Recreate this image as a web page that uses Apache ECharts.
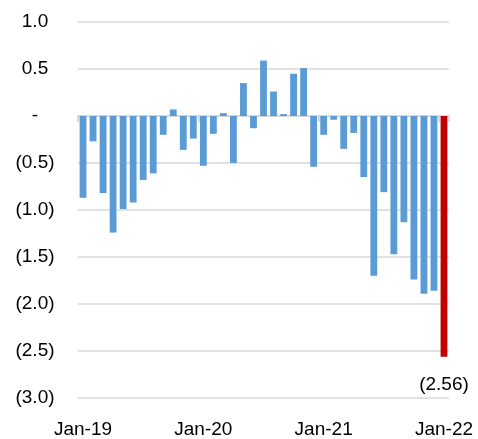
<!DOCTYPE html>
<html>
<head>
<meta charset="utf-8">
<script src="https://cdn.jsdelivr.net/npm/echarts@6/dist/echarts.min.js"></script>
<style>html,body{margin:0;padding:0;background:#fff}#c{width:478px;height:439px}</style>
</head>
<body>
<div id="c"></div>
<script>
const categories = ["Jan-19","Feb-19","Mar-19","Apr-19","May-19","Jun-19","Jul-19","Aug-19","Sep-19","Oct-19","Nov-19","Dec-19",
  "Jan-20","Feb-20","Mar-20","Apr-20","May-20","Jun-20","Jul-20","Aug-20","Sep-20","Oct-20","Nov-20","Dec-20",
  "Jan-21","Feb-21","Mar-21","Apr-21","May-21","Jun-21","Jul-21","Aug-21","Sep-21","Oct-21","Nov-21","Dec-21","Jan-22"];
const values = [-0.87,-0.27,-0.82,-1.24,-0.99,-0.92,-0.68,-0.61,-0.20,0.07,-0.36,-0.24,
  -0.53,-0.19,0.03,-0.50,0.35,-0.13,0.59,0.26,0.02,0.45,0.51,-0.54,
  -0.20,-0.04,-0.35,-0.18,-0.65,-1.70,-0.81,-1.47,-1.13,-1.74,-1.89,-1.86,-2.56];
const yTicks = {min:-3, max:1, interval:0.5};
const highlightIndex = 36;

const FONT = 'Liberation Sans';
const fmt = v => {
  if (Math.abs(v) < 1e-9) return '-';
  return v < 0 ? '(' + (-v).toFixed(1) + ')' : v.toFixed(1);
};

const chart = echarts.init(document.getElementById('c'));
chart.setOption({
  animation:false,
  grid:{left:78,right:29,top:22,bottom:38,containLabel:false},
  xAxis:[{
    type:'category', data:categories, boundaryGap:true,
    axisLine:{show:true, onZero:true, lineStyle:{color:'#d9d9d9', width:2}},
    axisTick:{show:true, interval:11, length:6, lineStyle:{color:'#d9d9d9', width:2}},
    axisLabel:{show:false}
  },{
    type:'category', data:categories, boundaryGap:true, position:'bottom',
    axisLine:{show:false, onZero:false}, axisTick:{show:false},
    axisLabel:{interval:11, color:'#000', fontFamily:FONT, fontSize:19, margin:22}
  }],
  yAxis:{
    type:'value', min:yTicks.min, max:yTicks.max, interval:yTicks.interval,
    axisLine:{show:false}, axisTick:{show:false},
    splitLine:{lineStyle:{color:'#d9d9d9', width:1.5}},
    axisLabel:{formatter:fmt, color:'#000', fontFamily:FONT, fontSize:19, align:'center', margin:43}
  },
  series:[{
    type:'bar', xAxisIndex:0, barCategoryGap:'32%',
    data: values.map((v,i)=> i===highlightIndex ? {
      value:v, itemStyle:{color:'#C00000'},
      label:{show:true, position:'bottom', distance:19, formatter:p=>'(' + (-p.value).toFixed(2) + ')',
        color:'#000', fontFamily:FONT, fontSize:19}
    } : v),
    itemStyle:{color:'#5B9BD5'}
  }]
});
</script>
</body>
</html>
